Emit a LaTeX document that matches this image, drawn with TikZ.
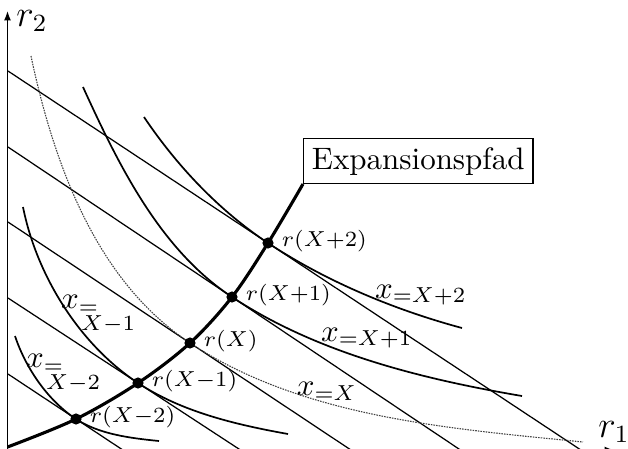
\documentclass[tikz,border=0pt]{standalone}
\usetikzlibrary{arrows.meta,calc}
\begin{document}
\begin{tikzpicture}[x=0.3226pt,y=-0.3226pt,
  budget/.style={line width=0.4pt},
  iso/.style={line width=0.55pt},
  isodot/.style={line width=0.35pt,black!75,dash pattern=on 0.5pt off 0.35pt},
  exppath/.style={line width=1pt},
  axis/.style={line width=0.4pt,-{Latex[length=3pt,width=2.2pt]}},
  dot/.style={circle,fill,inner sep=0pt,minimum size=3.6pt},
  rlab/.style={anchor=west,inner sep=0pt,xshift=4.3pt,yshift=0.5pt,font=\scriptsize},
  axlab/.style={font=\large}]
\useasboundingbox (0,0) rectangle (628,448);
\clip (0,0) rectangle (628,448);
% axes
\coordinate (o) at (7.5,450);
\coordinate (ytip) at (7.5,11);
\coordinate (xtip) at (614,450);
\draw[axis] (o) -- (ytip);
\draw[axis] (o) -- (xtip);
\node[axlab] (r2lab) at (32,21) {$r_2$};
\node[axlab] (r1lab) at (614,432) {$r_1$};
% points on the expansion path
\coordinate (pm2) at (76,419);
\coordinate (pm1) at (138,383);
\coordinate (p0) at (190,343);
\coordinate (p1) at (232,297);
\coordinate (p2) at (268,243);
\coordinate (pstart) at (7.5,447);
% budget lines
\coordinate (b2) at (8,71);
\coordinate (b1) at (8,147);
\coordinate (b0) at (8,222);
\coordinate (bm1) at (8,298);
\coordinate (bm2) at (8,374);
\draw[budget] (b2) -- ($(b2)!2.27!(p2)$);
\draw[budget] (b1) -- ($(b1)!2.09!(p1)$);
\draw[budget] (b0) -- ($(b0)!1.97!(p0)$);
\draw[budget] (bm1) -- ($(bm1)!1.91!(pm1)$);
\draw[budget] (bm2) -- ($(bm2)!1.91!(pm2)$);
% isoquants
\draw[iso] (144,117) .. controls (177,166) and (219,210.5) .. (p2)
  .. controls (326.5,281.6) and (394.5,309.8) .. (462,328);
\draw[iso] (83,87) .. controls (118.6,165) and (160,249.6) .. (p1)
  .. controls (317,353) and (421.4,378.9) .. (522,396);
\draw[isodot] (31,56) .. controls (62,203) and (115,293) .. (p0)
  .. controls (302.7,417.4) and (448.7,428.5) .. (583,442);
\draw[iso] (23,207) .. controls (36.7,275.6) and (79.5,344.4) .. (pm1)
  .. controls (182,412) and (235.8,424.6) .. (288,434);
\draw[iso] (15,336) .. controls (25.7,368) and (47.6,400.3) .. (pm2)
  .. controls (99.4,434.4) and (131,438.2) .. (159,441);
% expansion path
\node[draw,line width=0.4pt,inner sep=2.7pt,anchor=south west] (box) at (303,184) {Expansionspfad};
\draw[exppath] plot[smooth,tension=0.55] coordinates {(pstart) (pm2) (pm1) (p0) (p1) (p2) (box.south west)};
\foreach \p in {pm2,pm1,p0,p1,p2} \node[dot] at (\p) {};
\node[rlab] (lpm2) at (pm2) {$r(X{-}2)$};
\node[rlab] (lpm1) at (pm1) {$r(X{-}1)$};
\node[rlab] (lp0) at (p0) {$r(X)$};
\node[rlab] (lp1) at (p1) {$r(X{+}1)$};
\node[rlab] (lp2) at (p2) {$r(X{+}2)$};
% isoquant labels
\node (lx2) at (421,295) {$x_{=X+2}$};
\node (lx1) at (367,338) {$x_{=X+1}$};
\node (lx0) at (327,391) {$x_{=X}$};
\node[align=left,inner sep=0pt] (lxm1) at (98,314) {$x_{=}$\\[-5pt]\hspace*{6.5pt}$\scriptstyle X-1$};
\node[align=left,inner sep=0pt] (lxm2) at (63,373) {$x_{=}$\\[-5pt]\hspace*{6.5pt}$\scriptstyle X-2$};
\end{tikzpicture}
\end{document}
